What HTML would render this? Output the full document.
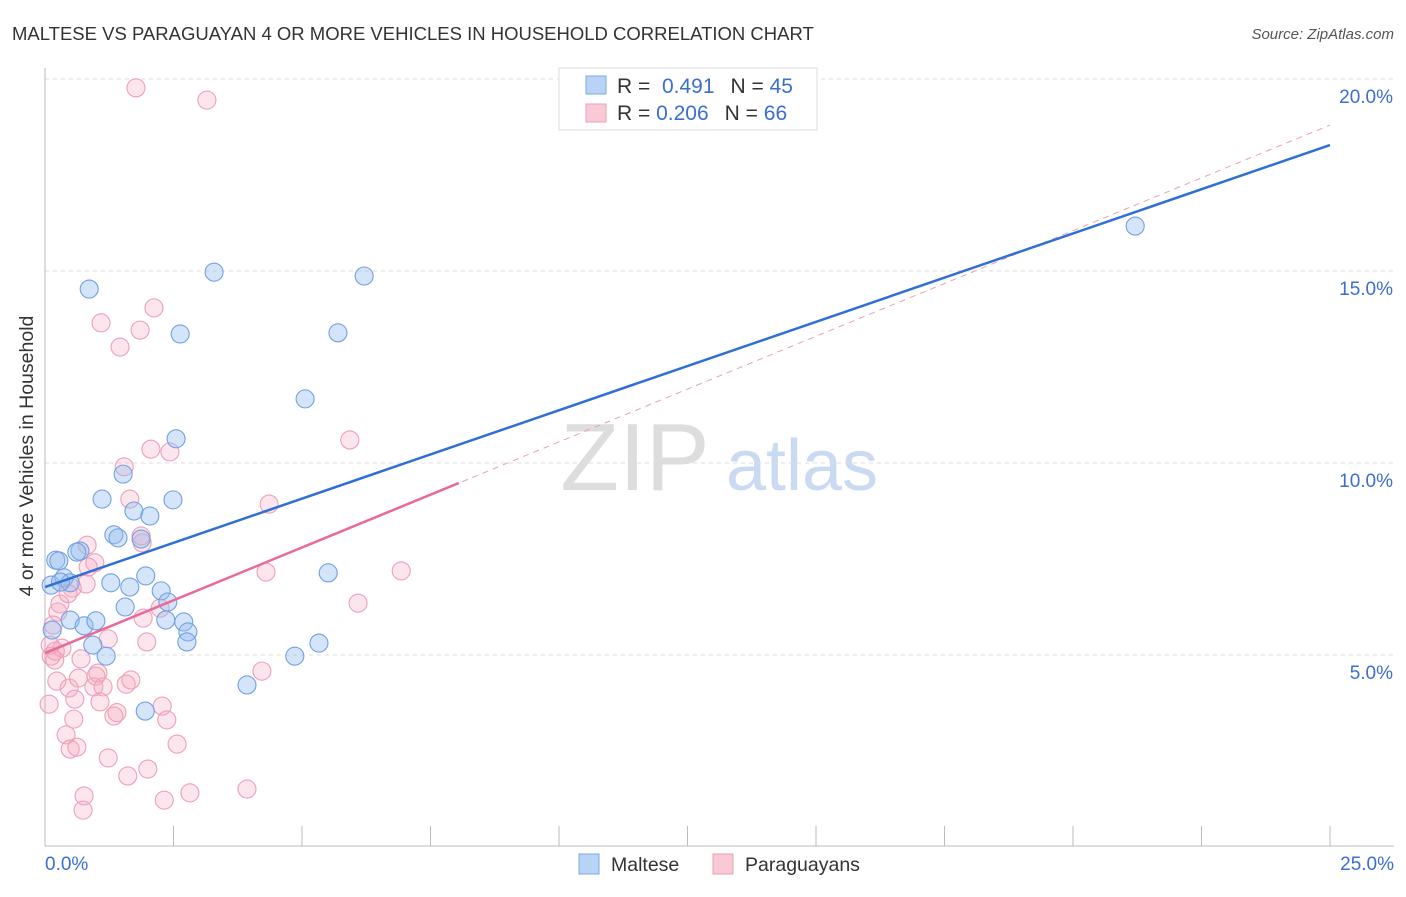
<!DOCTYPE html>
<html><head><meta charset="utf-8"><style>
body{margin:0;background:#fff;font-family:"Liberation Sans",sans-serif}
svg text{font-family:"Liberation Sans",sans-serif}
</style></head><body>
<svg id="chart" width="1406" height="892" viewBox="0 0 1406 892" xmlns="http://www.w3.org/2000/svg">
<text x="12" y="40" font-size="18.5" fill="#333">MALTESE VS PARAGUAYAN 4 OR MORE VEHICLES IN HOUSEHOLD CORRELATION CHART</text>
<text x="1394" y="39" font-size="15" fill="#555" text-anchor="end" font-style="italic">Source: ZipAtlas.com</text>
<text x="33" y="456" font-size="19.5" fill="#333" text-anchor="middle" transform="rotate(-90 33 456)">4 or more Vehicles in Household</text>
<g><text x="635" y="490" font-size="96" fill="#ddd" font-family="Liberation Serif" text-anchor="middle">ZIP</text><text x="802" y="490" font-size="72" fill="#c9daf2" text-anchor="middle">atlas</text></g>
<g id="grid"></g><g id="axes"></g><g id="marks"></g><g id="lines"></g>
<g>
<rect x="559" y="68" width="258" height="62" fill="#fff" stroke="#ddd"/>
<rect x="586" y="76" width="20" height="18" fill="#b8d3f5" stroke="#7fa8e0"/>
<rect x="586" y="104" width="20" height="18" fill="#f9c9d6" stroke="#eaa0b5"/>
<text x="617" y="93" font-size="21" fill="#333">R = <tspan fill="#3a6fd0">&#160;0.491</tspan><tspan dx="16" fill="#333">N = </tspan><tspan fill="#3a6fd0">45</tspan></text>
<text x="617" y="120" font-size="21" fill="#333">R = <tspan fill="#3a6fd0">0.206</tspan><tspan dx="16" fill="#333">N = </tspan><tspan fill="#3a6fd0">66</tspan></text>
</g>
<g>
<rect x="579" y="854" width="20" height="20" fill="#b8d3f5" stroke="#7fa8e0"/>
<text x="611" y="871" font-size="19.5" fill="#333">Maltese</text>
<rect x="713" y="854" width="20" height="20" fill="#f9c9d6" stroke="#eaa0b5"/>
<text x="745" y="871" font-size="19.5" fill="#333">Paraguayans</text>
</g>
</svg>
<script>
const yTicks=[5,10,15,20];
const yTickLabels=["5.0%","10.0%","15.0%","20.0%"];
const xTickCount=10;
const malteseX=[0.86,3.29,6.21,2.63,5.70,5.06,2.55,21.21,1.11,1.52,2.49,1.73,2.04,1.34,1.42,1.87,0.21,0.27,0.68,0.62,0.12,0.37,0.49,1.28,1.96,1.65,2.26,2.39,1.56,0.49,0.76,0.99,2.35,2.70,2.78,2.76,0.93,1.19,5.51,5.33,4.86,3.93,1.95,0.14,0.30];
const malteseY=[14.53,14.97,14.87,13.36,13.39,11.67,10.63,16.17,9.06,9.71,9.04,8.75,8.62,8.13,8.05,8.02,7.47,7.45,7.71,7.68,6.82,7.01,6.88,6.88,7.06,6.77,6.67,6.38,6.25,5.91,5.76,5.89,5.91,5.86,5.60,5.34,5.26,4.97,7.14,5.31,4.97,4.22,3.54,5.65,6.90];
const paraX=[1.77,3.15,2.12,1.09,1.85,1.46,5.93,2.06,2.43,1.54,1.65,4.36,0.82,1.87,1.89,0.97,0.84,4.30,6.93,0.53,0.80,0.29,0.25,2.24,1.91,6.09,0.16,1.23,1.98,0.33,0.12,0.19,0.70,1.03,0.99,4.22,0.23,0.47,0.95,1.13,1.58,1.67,0.58,1.07,0.08,2.28,1.34,0.56,2.37,0.41,0.49,0.62,2.57,1.23,2.00,1.61,3.93,2.82,2.32,0.76,0.74,0.10,0.45,0.20,1.40,0.65];
const paraY=[19.77,19.45,14.04,13.65,13.46,13.02,10.60,10.36,10.29,9.90,9.06,8.93,7.86,8.10,7.92,7.40,7.29,7.16,7.19,6.74,6.85,6.33,6.12,6.22,5.96,6.35,5.78,5.42,5.34,5.18,4.97,4.87,4.90,4.53,4.45,4.58,4.32,4.14,4.17,4.17,4.24,4.35,3.85,3.78,3.72,3.67,3.41,3.33,3.31,2.92,2.55,2.60,2.68,2.32,2.03,1.85,1.51,1.41,1.22,1.33,0.96,5.26,6.60,5.10,3.50,4.40];
const malteseFit=[6.77,18.28];
const paraFit=[5.05,18.80];
const paraSolidEnd=8.05;
const NS="http://www.w3.org/2000/svg";
const X=v=>45+v/25*1285, Y=v=>847-v/20*768;
function mk(t,a,p){const e=document.createElementNS(NS,t);for(const k in a)e.setAttribute(k,a[k]);p.appendChild(e);return e;}
const grid=document.getElementById('grid'),axes=document.getElementById('axes'),marks=document.getElementById('marks'),lines=document.getElementById('lines');
yTicks.forEach((v,i)=>{
 const l=mk('line',{x1:45,x2:1394,y1:Y(v),y2:Y(v),stroke:'#ddd','stroke-dasharray':'4,4'},grid);
 
 
 const t=mk('text',{x:1393,y:Y(v)+24,'font-size':19,fill:'#3a6fd0','text-anchor':'end'},axes);
 t.textContent=yTickLabels[i];
 
 
});
const ax=mk('line',{x1:45,x2:1394,y1:846,y2:846,stroke:'#bbb'},axes);


const ay=mk('line',{x1:45,x2:45,y1:68,y2:846,stroke:'#bbb'},axes);


for(let i=0;i<=xTickCount;i++){const x=X(i*25/xTickCount);const t=mk('line',{x1:x,x2:x,y1:826,y2:846,stroke:'#bbb'},axes);
 
 }
const x0=mk('text',{x:45,y:870,'font-size':19,fill:'#3a6fd0'},axes);x0.textContent='0.0%';


const x1=mk('text',{x:1394,y:870,'font-size':19,fill:'#3a6fd0','text-anchor':'end'},axes);x1.textContent='25.0%';


paraX.forEach((v,i)=>{const c=mk('circle',{cx:X(v),cy:Y(paraY[i]),r:9,fill:'rgba(245,170,192,0.3)',stroke:'#eda0b6','stroke-width':1.1},marks);
 
 });
malteseX.forEach((v,i)=>{const c=mk('circle',{cx:X(v),cy:Y(malteseY[i]),r:9,fill:'rgba(150,190,240,0.4)',stroke:'#72a0e2','stroke-width':1.1},marks);
 
 });
const pf=v=>paraFit[0]+(paraFit[1]-paraFit[0])*v/25;
const pd=mk('line',{x1:X(0),y1:Y(pf(0)),x2:X(25),y2:Y(pf(25)),stroke:'#e8a0b4','stroke-dasharray':'6,5','stroke-width':1},lines);


const ps=mk('line',{x1:X(0),y1:Y(pf(0)),x2:X(paraSolidEnd),y2:Y(pf(paraSolidEnd)),stroke:'#e8699a','stroke-width':2.5},lines);


const mf=mk('line',{x1:X(0),y1:Y(malteseFit[0]),x2:X(25),y2:Y(malteseFit[1]),stroke:'#2f6fd6','stroke-width':2.5},lines);


</script>
</body></html>
